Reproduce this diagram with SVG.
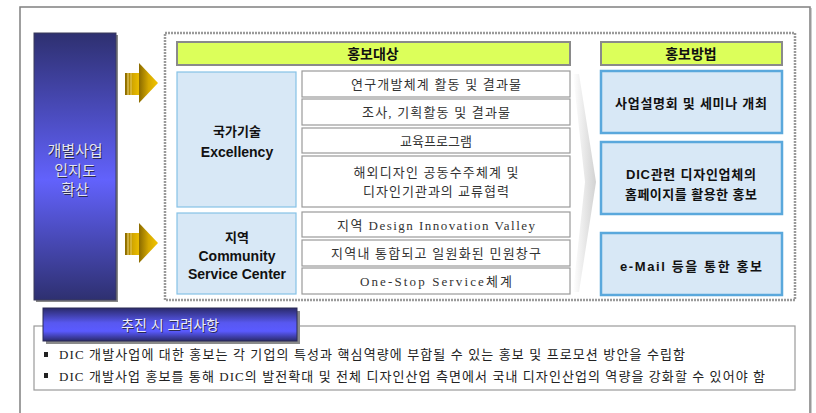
<svg xmlns="http://www.w3.org/2000/svg" width="816" height="413" viewBox="0 0 816 413">
<defs>
<linearGradient id="gCol" x1="0" y1="0" x2="0" y2="1">
<stop offset="0" stop-color="#2e3070"/>
<stop offset="0.55" stop-color="#6262fc"/>
<stop offset="1" stop-color="#2e3070"/>
</linearGradient>
<linearGradient id="gBan" x1="0" y1="0" x2="0" y2="1">
<stop offset="0" stop-color="#2a2a6a"/>
<stop offset="0.45" stop-color="#5858f0"/>
<stop offset="0.7" stop-color="#5a5aff"/>
<stop offset="1" stop-color="#2a2a6a"/>
</linearGradient>
<linearGradient id="gArr" x1="0" y1="0" x2="1" y2="0">
<stop offset="0" stop-color="#8a6a00"/>
<stop offset="0.5" stop-color="#d4a800"/>
<stop offset="1" stop-color="#f2c400"/>
</linearGradient>
<linearGradient id="gChev" x1="0" y1="0" x2="1" y2="0">
<stop offset="0" stop-color="#ffffff"/>
<stop offset="1" stop-color="#d2d2d2"/>
</linearGradient>
<style>
.k{font-family:"Liberation Serif","Noto Sans CJK KR",serif;font-size:13px;fill:#333;text-anchor:middle;dominant-baseline:central}
.b{font-family:"Liberation Sans","Noto Sans CJK KR",sans-serif;font-weight:bold;font-size:13px;fill:#111;text-anchor:middle;dominant-baseline:central}
.item{fill:#fff;stroke:#9a9a9a;stroke-width:1.2}
.lbox{fill:#d8e8f6;stroke:#86c2e6;stroke-width:1.2}
.rbox{fill:#d8e8f6;stroke:#5aa8dc;stroke-width:2.5}
.hdr{fill:#dcff5a;stroke:#8a8a8a;stroke-width:2}
.bul{font-family:"Liberation Serif","Noto Sans CJK KR",serif;font-size:13px;fill:#222}
</style>
</defs>
<rect width="816" height="413" fill="#fff"/>
<!-- outer frame -->
<rect x="20" y="7" width="790" height="420" fill="none" stroke="#808080" stroke-width="1.5"/>
<line x1="810.5" y1="8" x2="810.5" y2="413" stroke="#9a9a9a" stroke-width="2"/>

<!-- left column -->
<g id="node-left">
<rect x="36" y="35" width="82" height="267" fill="#888"/>
<rect x="34" y="33" width="82" height="267" fill="url(#gCol)" stroke="#3a3a5a" stroke-width="1"/>
<g font-family="'Liberation Sans','Noto Sans CJK KR',sans-serif" font-size="15" text-anchor="middle" dominant-baseline="central">
<g fill="#2a2a55" transform="translate(1,1)">
<text x="75" y="150">개별사업</text><text x="75" y="170">인지도</text><text x="75" y="189">확산</text>
</g>
<g fill="#e4e4f2">
<text x="75" y="150">개별사업</text><text x="75" y="170">인지도</text><text x="75" y="189">확산</text>
</g>
</g>
</g>

<!-- dotted frame -->
<rect x="165" y="33" width="630" height="267" fill="none" stroke="#9a9a9a" stroke-width="2.5" stroke-dasharray="2 1"/>

<g id="connectors">
<g id="arrow1">
<rect x="125" y="73" width="16" height="22" fill="url(#gArr)"/>
<line x1="128" y1="73" x2="128" y2="95" stroke="#f3dc80" stroke-width="1"/>
<line x1="131" y1="73" x2="131" y2="95" stroke="#f3dc80" stroke-width="0.8"/>
<polygon points="139,63 158,83 139,103" fill="url(#gArr)"/>
</g>
<g id="arrow2">
<rect x="125" y="233" width="16" height="22" fill="url(#gArr)"/>
<line x1="128" y1="233" x2="128" y2="255" stroke="#f3dc80" stroke-width="1"/>
<line x1="131" y1="233" x2="131" y2="255" stroke="#f3dc80" stroke-width="0.8"/>
<polygon points="139,223 158,243 139,263" fill="url(#gArr)"/>
</g>
<polygon id="chevron" points="573,74 579,74 596,182 579,292 573,292 585,182" fill="url(#gChev)"/>
</g>

<g id="hdr-target">
<rect class="hdr" x="177" y="42" width="393" height="23"/>
<text class="b" x="373" y="54" style="font-size:14px">홍보대상</text>
</g>

<g id="node-excellency">
<rect class="lbox" x="177" y="72" width="119" height="135"/>
<text class="b" x="237" y="131">국가기술</text>
<text class="b" x="237" y="152" style="font-size:14px">Excellency</text>
</g>
<g id="item1"><rect class="item" x="302" y="71" width="268" height="26"/><text class="k" x="436" y="84" textLength="170">연구개발체계 활동 및 결과물</text></g>
<g id="item2"><rect class="item" x="302" y="99" width="268" height="26"/><text class="k" x="436" y="112" textLength="148">조사, 기획활동 및 결과물</text></g>
<g id="item3"><rect class="item" x="302" y="128" width="268" height="25"/><text class="k" x="436" y="141">교육프로그램</text></g>
<g id="item4"><rect class="item" x="302" y="156" width="268" height="51"/>
<text class="k" x="436" y="172" textLength="165">해외디자인 공동수주체계 및</text>
<text class="k" x="436" y="191" textLength="146">디자인기관과의 교류협력</text></g>

<g id="node-community">
<rect class="lbox" x="177" y="213" width="119" height="81"/>
<text class="b" x="237" y="237">지역</text>
<text class="b" x="237" y="256" style="font-size:14px">Community</text>
<text class="b" x="237" y="274" style="font-size:14px">Service Center</text>
</g>
<g id="item5"><rect class="item" x="302" y="212" width="268" height="25"/><text class="k" x="436" y="225" textLength="198">지역 Design Innovation Valley</text></g>
<g id="item6"><rect class="item" x="302" y="240" width="268" height="26"/><text class="k" x="436" y="253" textLength="210">지역내 통합되고 일원화된 민원창구</text></g>
<g id="item7"><rect class="item" x="302" y="268" width="268" height="26"/><text class="k" x="436" y="281" textLength="152">One-Stop Service체계</text></g>

<g id="hdr-method">
<rect class="hdr" x="601" y="42" width="181" height="23"/>
<text class="b" x="691" y="54" style="font-size:14px">홍보방법</text>
</g>
<g id="method1"><rect class="rbox" x="601" y="71" width="181" height="62"/><text class="b" x="691" y="103" textLength="152">사업설명회 및 세미나 개최</text></g>
<g id="method2"><rect class="rbox" x="601" y="142" width="181" height="72"/>
<text class="b" x="691" y="174" textLength="130">DIC관련 디자인업체의</text>
<text class="b" x="691" y="194" textLength="132">홈페이지를 활용한 홍보</text></g>
<g id="method3"><rect class="rbox" x="601" y="233" width="181" height="62"/><text class="b" x="691" y="266" textLength="142">e-Mail 등을 통한 홍보</text></g>

<g id="considerations">
<rect x="34" y="326" width="761" height="64" fill="#fff" stroke="#9a9a9a" stroke-width="1.2"/>
<rect x="46" y="311" width="254" height="33" fill="#8a8a8a"/>
<rect x="43" y="308" width="254" height="33" fill="url(#gBan)" stroke="#2a2a55" stroke-width="1"/>
<text x="171" y="326" font-family="'Liberation Sans','Noto Sans CJK KR',sans-serif" font-size="14" fill="#2a2a55" text-anchor="middle" dominant-baseline="central">추진 시 고려사항</text>
<text x="170" y="325" font-family="'Liberation Sans','Noto Sans CJK KR',sans-serif" font-size="14" fill="#ececf8" text-anchor="middle" dominant-baseline="central">추진 시 고려사항</text>
<rect x="44" y="352" width="4" height="5" fill="#222"/>
<rect x="44" y="373" width="4" height="5" fill="#222"/>
<text class="bul" x="59" y="359" textLength="626" lengthAdjust="spacing">DIC 개발사업에 대한 홍보는 각 기업의 특성과 핵심역량에 부합될 수 있는 홍보 및 프로모션 방안을 수립함</text>
<text class="bul" x="59" y="381" textLength="706" lengthAdjust="spacing">DIC 개발사업 홍보를 통해 DIC의 발전확대 및 전체 디자인산업 측면에서 국내 디자인산업의 역량을 강화할 수 있어야 함</text>
</g>
</svg>
